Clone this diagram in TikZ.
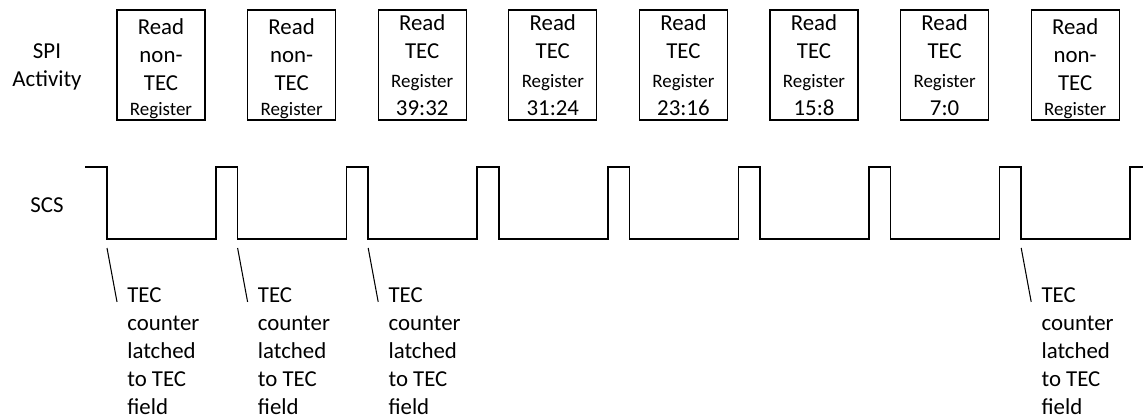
\documentclass[tikz,border=0pt]{standalone}
\usepackage{fontspec}
\setmainfont{Carlito}
\newcommand\regfont{\fontsize{10.8}{16.2}\selectfont}

\begin{document}
\begin{tikzpicture}[x=0.02cm, y=-0.02cm,
    regbox/.style={rectangle, draw=black, line width=0.7pt,
                   minimum width=1.76cm, minimum height=2.2cm, inner sep=0pt,
                   align=center, font=\fontsize{13}{16.2}\selectfont},
    lbl/.style={inner sep=0pt, align=center, font=\fontsize{13}{15.9}\selectfont},
    note/.style={inner sep=0pt, align=left, anchor=north west,
                 font=\fontsize{13}{15.9}\selectfont},
    wave/.style={line width=0.9pt, line join=miter},
    tick/.style={line width=0.6pt}
  ]
    \useasboundingbox (0,0) rectangle (1145,419);

    %% Row labels
    \node[lbl, anchor=north] (spi) at (47,43.5) {SPI\\Activity};
    \node[lbl, anchor=base] (scs) at (47,212) {SCS};

    %% SPI activity
    \node[regbox] (rd1) at (161,65) {\rule{0pt}{12.8pt}Read\\non-\\TEC\\[-2.4pt]{\regfont Register}};
    \node[regbox] (rd2) at (291.6,65) {\rule{0pt}{12.8pt}Read\\non-\\TEC\\[-2.4pt]{\regfont Register}};
    \node[regbox] (rd3) at (422.2,65) {Read\\TEC\\{\regfont Register}\\39:32};
    \node[regbox] (rd4) at (552.8,65) {Read\\TEC\\{\regfont Register}\\31:24};
    \node[regbox] (rd5) at (683.4,65) {Read\\TEC\\{\regfont Register}\\23:16};
    \node[regbox] (rd6) at (814,65) {Read\\TEC\\{\regfont Register}\\15:8};
    \node[regbox] (rd7) at (944.6,65) {Read\\TEC\\{\regfont Register}\\7:0};
    \node[regbox] (rd8) at (1075.2,65) {\rule{0pt}{12.8pt}Read\\non-\\TEC\\[-2.4pt]{\regfont Register}};

    %% SCS waveform
    \draw[wave] (85,167)
      \foreach \i [evaluate=\i as \f using 107+130.6*\i] in {0,...,7} {
        -- (\f,167) -- (\f,239) -- (\f+109,239) -- (\f+109,167)
      } -- (1143,167);

    %% Latch notes
    \coordinate (fall1) at (107,248);
    \coordinate (fall2) at (237.6,248);
    \coordinate (fall3) at (368.2,248);
    \coordinate (fall8) at (1021.2,248);
    \node[note] (lat1) at (127,287.4) {TEC\\counter\\latched\\to TEC\\field};
    \node[note] (lat2) at (257.6,287.4) {TEC\\counter\\latched\\to TEC\\field};
    \node[note] (lat3) at (388.2,287.4) {TEC\\counter\\latched\\to TEC\\field};
    \node[note] (lat8) at (1041.2,287.4) {TEC\\counter\\latched\\to TEC\\field};
    \draw[tick] (fall1) -- ([shift={(-10,14.5)}]lat1.north west);
    \draw[tick] (fall2) -- ([shift={(-10,14.5)}]lat2.north west);
    \draw[tick] (fall3) -- ([shift={(-10,14.5)}]lat3.north west);
    \draw[tick] (fall8) -- ([shift={(-10,14.5)}]lat8.north west);
\end{tikzpicture}
\end{document}
